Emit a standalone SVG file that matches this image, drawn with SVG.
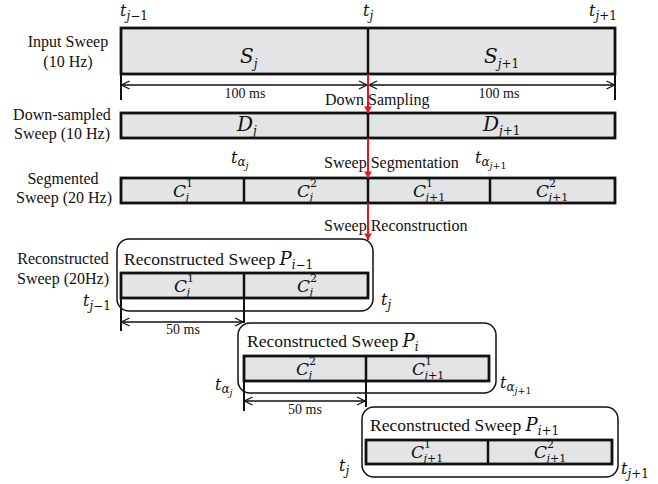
<svg xmlns="http://www.w3.org/2000/svg" width="658" height="484" viewBox="0 0 658 484">
<style>
.lbl{font-family:"Liberation Serif","Times New Roman",serif;font-size:16px;fill:#111;text-anchor:middle}
.txt{font-family:"Liberation Serif","Times New Roman",serif;font-size:16px;fill:#111}
.dim{font-family:"Liberation Serif","Times New Roman",serif;font-size:14px;fill:#111;text-anchor:middle}
.ttl{font-family:"Liberation Serif","Times New Roman",serif;font-size:17.5px;fill:#111}
.m{font-family:"DejaVu Serif",serif;font-style:italic;fill:#111}
.mb{font-size:20px}
.mc{font-size:17px}
.mt{font-size:16px}
.ms{font-size:12px}
.mcs{font-size:11px}
.mss{font-size:9.5px}
.u{font-style:normal}
.bar{fill:#e2e4e5;stroke:#111;stroke-width:2.8}
.div{stroke:#111;stroke-width:2.5}
.rbox{fill:none;stroke:#111;stroke-width:1.5}
.tick{stroke:#111;stroke-width:2}
.dl{stroke:#111;stroke-width:1.3;fill:none}
.red{stroke:#e8151b;stroke-width:2;fill:none}
</style>
<defs>
<marker id="oa" viewBox="0 0 10 10" refX="9" refY="5" markerWidth="10" markerHeight="10" markerUnits="userSpaceOnUse" orient="auto-start-reverse">
<path d="M1,1 L9,5 L1,9" fill="none" stroke="#111" stroke-width="1.3"/>
</marker>
<marker id="ra" viewBox="0 0 8 10" refX="8" refY="5" markerWidth="8" markerHeight="8" markerUnits="userSpaceOnUse" orient="auto">
<path d="M0,0 L8,5 L0,10 Z" fill="#e8151b"/>
</marker>
</defs>
<rect width="658" height="484" fill="#fff"/>

<g id="row-labels">
<text class="lbl" x="68" y="47">Input Sweep</text>
<text class="lbl" x="68" y="67">(10 Hz)</text>
<text class="lbl" x="62" y="120">Down-sampled</text>
<text class="lbl" x="62" y="139">Sweep (10 Hz)</text>
<text class="lbl" x="63" y="184">Segmented</text>
<text class="lbl" x="64" y="203">Sweep (20 Hz)</text>
<text class="lbl" x="63" y="264">Reconstructed</text>
<text class="lbl" x="63" y="284">Sweep (20Hz)</text>
</g>

<g id="time-labels">
<text class="m mt" x="120" y="16">t<tspan class="ms" dy="4">j</tspan><tspan class="ms u">−1</tspan></text>
<text class="m mt" x="363" y="16">t<tspan class="ms" dy="4">j</tspan></text>
<text class="m mt" x="589" y="16">t<tspan class="ms" dy="4">j</tspan><tspan class="ms u">+1</tspan></text>
<text class="m mt" x="231" y="163">t<tspan class="ms" dy="3">α</tspan><tspan class="mss" dy="3">j</tspan></text>
<text class="m mt" x="475" y="163">t<tspan class="ms" dy="3">α</tspan><tspan class="mss" dy="3">j</tspan><tspan class="mss u">+1</tspan></text>
<text class="m mt" x="83" y="306">t<tspan class="ms" dy="4">j</tspan><tspan class="ms u">−1</tspan></text>
<text class="m mt" x="381" y="305">t<tspan class="ms" dy="4">j</tspan></text>
<text class="m mt" x="215" y="390">t<tspan class="ms" dy="3">α</tspan><tspan class="mss" dy="3">j</tspan></text>
<text class="m mt" x="500" y="388">t<tspan class="ms" dy="3">α</tspan><tspan class="mss" dy="3">j</tspan><tspan class="mss u">+1</tspan></text>
<text class="m mt" x="339" y="471">t<tspan class="ms" dy="4">j</tspan></text>
<text class="m mt" x="621" y="474">t<tspan class="ms" dy="4">j</tspan><tspan class="ms u">+1</tspan></text>
</g>

<g id="input-sweep">
<rect class="bar" x="121" y="28" width="494" height="46"/>
<line class="div" x1="368" y1="28" x2="368" y2="74"/>
<text class="m mb" x="240" y="63">S<tspan class="ms" dy="5">j</tspan></text>
<text class="m mb" x="484" y="63">S<tspan class="ms" dy="5">j</tspan><tspan class="ms u">+1</tspan></text>
</g>

<g id="downsampled-sweep">
<rect class="bar" x="121" y="113" width="494" height="25"/>
<line class="div" x1="368" y1="113" x2="368" y2="138"/>
<text class="m mb" x="237" y="131">D<tspan class="ms" dy="4">j</tspan></text>
<text class="m mb" x="483" y="131">D<tspan class="ms" dy="4">j</tspan><tspan class="ms u">+1</tspan></text>
</g>

<g id="segmented-sweep">
<rect class="bar" x="121" y="178" width="494" height="25"/>
<line class="div" x1="244" y1="178" x2="244" y2="203"/>
<line class="div" x1="368" y1="178" x2="368" y2="203"/>
<line class="div" x1="490" y1="178" x2="490" y2="203"/>
<text class="m mc" x="173" y="197">C<tspan class="mcs u" dy="-10">1</tspan><tspan class="mcs" x="185.5" dy="14">j</tspan></text>
<text class="m mc" x="297" y="197">C<tspan class="mcs u" dy="-10">2</tspan><tspan class="mcs" x="309.5" dy="14">j</tspan></text>
<text class="m mc" x="413" y="197">C<tspan class="mcs u" dy="-10">1</tspan><tspan class="mcs" x="425.5" dy="14">j</tspan><tspan class="mcs u">+1</tspan></text>
<text class="m mc" x="536" y="197">C<tspan class="mcs u" dy="-10">2</tspan><tspan class="mcs" x="548.5" dy="14">j</tspan><tspan class="mcs u">+1</tspan></text>
</g>

<g id="reconstructed-prev">
<rect class="rbox" x="117" y="239" width="256" height="72" rx="12"/>
<text class="ttl" x="124" y="265">Reconstructed Sweep <tspan class="m" font-size="18">P</tspan><tspan class="m ms" dy="4">i</tspan><tspan class="m ms u">−1</tspan></text>
<rect class="bar" x="121" y="273" width="247" height="25"/>
<line class="div" x1="244" y1="273" x2="244" y2="298"/>
<text class="m mc" x="174" y="292">C<tspan class="mcs u" dy="-10">1</tspan><tspan class="mcs" x="186.5" dy="14">j</tspan></text>
<text class="m mc" x="297" y="292">C<tspan class="mcs u" dy="-10">2</tspan><tspan class="mcs" x="309.5" dy="14">j</tspan></text>
</g>

<g id="reconstructed-cur">
<rect class="rbox" x="238" y="323" width="258" height="70" rx="12"/>
<text class="ttl" x="247" y="347">Reconstructed Sweep <tspan class="m" font-size="18">P</tspan><tspan class="m ms" dy="4">i</tspan></text>
<rect class="bar" x="244" y="356" width="245" height="25"/>
<line class="div" x1="366" y1="356" x2="366" y2="381"/>
<text class="m mc" x="296" y="375">C<tspan class="mcs u" dy="-10">2</tspan><tspan class="mcs" x="308.5" dy="14">j</tspan></text>
<text class="m mc" x="412" y="375">C<tspan class="mcs u" dy="-10">1</tspan><tspan class="mcs" x="424.5" dy="14">j</tspan><tspan class="mcs u">+1</tspan></text>
</g>

<g id="reconstructed-next">
<rect class="rbox" x="362" y="407" width="256" height="70" rx="12"/>
<text class="ttl" x="370" y="431">Reconstructed Sweep <tspan class="m" font-size="18">P</tspan><tspan class="m ms" dy="4">i</tspan><tspan class="m ms u">+1</tspan></text>
<rect class="bar" x="366" y="440" width="246" height="24"/>
<line class="div" x1="488" y1="440" x2="488" y2="464"/>
<text class="m mc" x="411" y="458">C<tspan class="mcs u" dy="-10">1</tspan><tspan class="mcs" x="423.5" dy="14">j</tspan><tspan class="mcs u">+1</tspan></text>
<text class="m mc" x="534" y="458">C<tspan class="mcs u" dy="-10">2</tspan><tspan class="mcs" x="546.5" dy="14">j</tspan><tspan class="mcs u">+1</tspan></text>
</g>

<g id="connectors">
<line class="tick" x1="121" y1="74" x2="121" y2="100"/>
<line class="tick" x1="615" y1="74" x2="615" y2="100"/>
<line class="dl" x1="121.5" y1="85" x2="367" y2="85" marker-start="url(#oa)" marker-end="url(#oa)"/>
<line class="dl" x1="369" y1="85" x2="614.5" y2="85" marker-start="url(#oa)" marker-end="url(#oa)"/>
<text class="dim" x="245" y="98">100 ms</text>
<text class="dim" x="499" y="98">100 ms</text>

<line class="red" x1="368" y1="74" x2="368" y2="113" marker-end="url(#ra)"/>
<line class="red" x1="368" y1="138" x2="368" y2="178" marker-end="url(#ra)"/>
<line class="red" x1="368" y1="203" x2="368" y2="240" marker-end="url(#ra)"/>
<text class="txt" x="325" y="105">Down Sampling</text>
<text class="txt" x="324" y="168">Sweep Segmentation</text>
<text class="txt" x="324" y="231">Sweep Reconstruction</text>

<line class="tick" x1="121" y1="298" x2="121" y2="331"/>
<line class="tick" x1="244" y1="298" x2="244" y2="323"/>
<line class="dl" x1="121.5" y1="322" x2="243" y2="322" marker-start="url(#oa)" marker-end="url(#oa)"/>
<text class="dim" x="183" y="334">50 ms</text>

<line class="tick" x1="244" y1="381" x2="244" y2="411"/>
<line class="tick" x1="366" y1="381" x2="366" y2="407"/>
<line class="dl" x1="244.5" y1="401" x2="365" y2="401" marker-start="url(#oa)" marker-end="url(#oa)"/>
<text class="dim" x="305" y="414">50 ms</text>
</g>
</svg>
